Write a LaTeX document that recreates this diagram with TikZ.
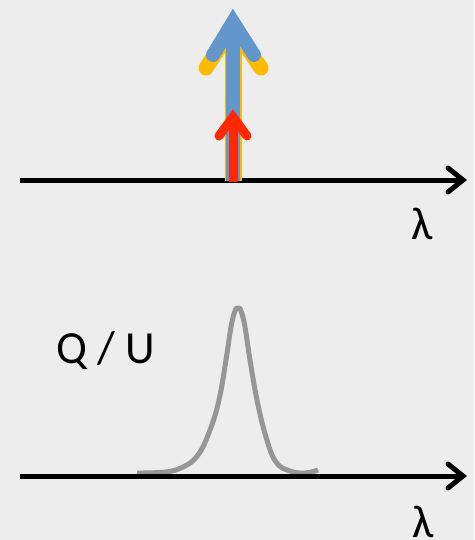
\documentclass[tikz,border=0pt]{standalone}
\usepackage{fontspec}
\setmainfont{Carlito}
\definecolor{bg}{RGB}{237,237,237}
\definecolor{ablue}{RGB}{99,151,203}
\definecolor{ayellow}{RGB}{255,185,0}
\definecolor{ared}{RGB}{255,40,0}
\definecolor{agray}{RGB}{150,150,150}
\tikzset{
  axisline/.style={line width=5pt, black},
  axishead/.style={line width=5pt, black, line cap=round, line join=miter},
  lbl/.style={font=\fontsize{46}{50}\selectfont, inner sep=0pt, anchor=center},
  shaft/.style={line width=#1},
  chevron/.style={line width=#1, line cap=round, line join=miter, miter limit=10},
}
\begin{document}
\begin{tikzpicture}[x=1pt,y=-1pt]
\useasboundingbox[fill=bg] (0,0) rectangle (474,540);
% top axis
\coordinate (a1s) at (20,180);
\coordinate (a1e) at (463,180);
\coordinate (a1u) at (448,168);
\coordinate (a1d) at (448,192);
\draw[axisline] (a1s) -- (a1e);
% yellow arrow
\coordinate (ybase) at (233,181);
\coordinate (ytop) at (233,30);
\coordinate (yl) at (206,68);
\coordinate (yr) at (261,68);
\coordinate (yapex) at (233,27);
\draw[shaft=17pt, ayellow] (ybase) -- (ytop);
\draw[chevron=15pt, ayellow] (yl) -- (yapex) -- (yr);
% blue arrow
\coordinate (bbase) at (233,181);
\coordinate (btop) at (233,24);
\coordinate (bl) at (213,55);
\coordinate (br) at (254,55);
\coordinate (bapex) at (233,22);
\draw[shaft=14pt, ablue] (bbase) -- (btop);
\draw[chevron=14pt, ablue] (bl) -- (bapex) -- (br);
% top axis arrowhead
\draw[axishead] (a1u) -- (a1e) -- (a1d);
% red arrow
\coordinate (rbase) at (233,182);
\coordinate (rtop) at (233,120);
\coordinate (rl) at (219,136);
\coordinate (rr) at (247,136);
\coordinate (rapex) at (233,117);
\draw[shaft=9pt, ared] (rbase) -- (rtop);
\draw[chevron=9pt, ared] (rl) -- (rapex) -- (rr);
\node[lbl] (lam1) at (422,224) {λ};
% bottom
\coordinate (a2s) at (20,476);
\coordinate (a2e) at (463,476);
\coordinate (a2u) at (448,464);
\coordinate (a2d) at (448,488);
\draw[line width=5pt, agray, line cap=butt, line join=round]
  plot[smooth, tension=0.7] coordinates {
  (137,473) (165,472) (183,467) (198,455) (210,430) (219,400) (226,360)
  (231,327) (235,311) (238,308) (241,311) (245,327) (250,360) (257,400)
  (266,437) (276,462) (290,471) (305,473) (318,470)};
\draw[axisline] (a2s) -- (a2e);
\draw[axishead] (a2u) -- (a2e) -- (a2d);
\node[lbl] (lam2) at (423,522) {λ};
\node[lbl, anchor=base west] (qu) at (56,363) {Q / U};
\end{tikzpicture}
\end{document}
